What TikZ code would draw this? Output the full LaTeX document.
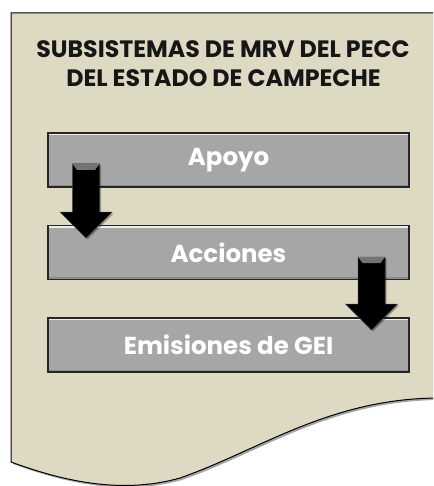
\documentclass[tikz,border=0pt]{standalone}
\usepackage{fontspec}
\setmainfont{Poppins}
\usetikzlibrary{shadows}
\definecolor{docfill}{HTML}{DDD9C3}
\definecolor{boxfill}{HTML}{A6A6A6}
\definecolor{titlecol}{HTML}{161616}
\tikzset{
  docshape/.style={fill=docfill, draw=black, line width=1pt,
    drop shadow={shadow xshift=2pt, shadow yshift=-2pt, opacity=0.35, fill=black}},
  stagebox/.style={fill=boxfill, draw=black!85, line width=1.2pt,
    minimum width=361pt, minimum height=54pt, inner sep=0pt},
  stagetext/.style={text=white, font=\fontsize{24.5}{28}\selectfont\bfseries},
  bevel/.style={draw=white!80!boxfill, line width=1.5pt},
  blkarrow/.style={fill=black, draw=black!80, line width=0.5pt,
    drop shadow={shadow xshift=1.5pt, shadow yshift=-1.5pt, opacity=0.3, fill=black}},
  titletext/.style={text=titlecol, inner sep=0pt, anchor=base,
    font=\fontsize{23.7}{28}\selectfont\bfseries}
}
\newcommand{\mydownarrow}[3]{% center x, top y, tip y
  \path[blkarrow] (#1-13.5,#2) -- (#1+13.5,#2) -- (#1+13.5,#3-26) -- (#1+26,#3-26)
    -- (#1,#3) -- (#1-26,#3-26) -- (#1-13.5,#3-26) -- cycle;
  \fill[black!55] (#1-13.5,#2) -- (#1+13.5,#2) -- (#1+9,#2+6) -- (#1-9,#2+6) -- cycle;
}
\begin{document}
\begin{tikzpicture}[x=1pt,y=-1pt]
\useasboundingbox (0,0) rectangle (433,486);
\begin{scope}
\clip (0,0) rectangle (433,486);
\path[docshape] (11,13) -- (440,13) -- (440,398)
  .. controls (330,398) and (260,450) .. (180,478)
  .. controls (120,495) and (60,480) .. (11,462) -- cycle;
\end{scope}
\node[titletext] (title1) at (223,58) {SUBSISTEMAS DE MRV DEL PECC};
\node[titletext] (title2) at (223.5,86.5) {DEL ESTADO DE CAMPECHE};
\node[stagebox] (apoyo) at (228.5,160) {};
\node[stagebox] (acciones) at (228.5,252.5) {};
\node[stagebox] (emisiones) at (228.5,345) {};
\foreach \b in {apoyo,acciones,emisiones}{
  \draw[bevel] ([xshift=2pt,yshift=-2pt]\b.north west) -- ([xshift=-2pt,yshift=-2pt]\b.north east);
  \draw[black!45, line width=1.5pt] ([xshift=2pt,yshift=2pt]\b.south west) -- ([xshift=-2pt,yshift=2pt]\b.south east);
}
\node[stagetext] (tapoyo) at (apoyo) {Apoyo};
\node[stagetext] (tacciones) at (acciones) {Acciones};
\node[stagetext] (temisiones) at (emisiones) {Emisiones de GEI};
\mydownarrow{86}{164}{238}
\mydownarrow{371.5}{257}{330}
\end{tikzpicture}
\end{document}
